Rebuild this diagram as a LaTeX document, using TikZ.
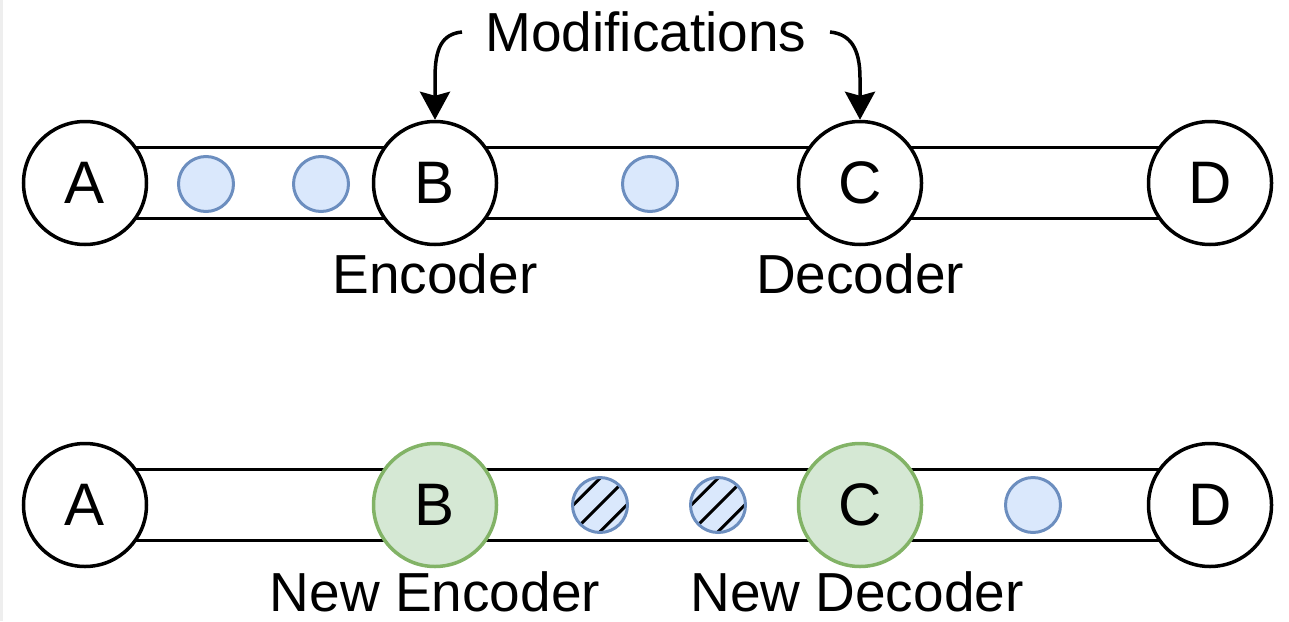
\documentclass[tikz,border=0pt]{standalone}
\usepackage{fontspec}
\setmainfont{Liberation Sans}
\usetikzlibrary{arrows.meta}
\pgfdeclarelayer{bg}
\pgfsetlayers{bg,main}
\definecolor{bluefill}{HTML}{DAE8FC}
\definecolor{bluedraw}{HTML}{6C8EBF}
\definecolor{greenfill}{HTML}{D5E8D4}
\definecolor{greendraw}{HTML}{82B366}
\definecolor{edgegray}{HTML}{EEEEEE}
\begin{document}
\begin{tikzpicture}[x=1pt,y=-1pt,
  stage/.style={circle,draw=black,fill=white,line width=3.5pt,minimum size=123pt,inner sep=0pt,
    font=\fontsize{60}{66}\selectfont},
  newstage/.style={stage,draw=greendraw,fill=greenfill},
  token/.style={circle,draw=bluedraw,fill=bluefill,line width=3pt,minimum size=55pt,inner sep=0pt},
  hatched/.style={token,path picture={
     \foreach \s in {-13.4,0,13.4}{
       \draw[black,line width=3pt]
         ([shift={(\s pt-40pt,-\s pt-40pt)}]path picture bounding box.center) --
         ([shift={(\s pt+40pt,-\s pt+40pt)}]path picture bounding box.center);}}},
  label/.style={font=\fontsize{55}{60}\selectfont,inner sep=0pt},
  band/.style={line width=3.5pt},
  modarrow/.style={line width=3.5pt,-{Stealth[length=28pt,width=30pt,inset=4pt]}}
]
\useasboundingbox (0,0) rectangle (1289,621);
\fill[edgegray] (0,0) rectangle (3,621);

% top row
\node[stage] (A1) at (85,183) {A};
\node[stage] (B1) at (435,183) {B};
\node[stage] (C1) at (860,183) {C};
\node[stage] (D1) at (1210,183) {D};
\begin{pgfonlayer}{bg}
  \foreach \u/\v in {A1/B1,B1/C1,C1/D1}{
    \draw[band] ([yshift=35.5pt]\u.center) -- ([yshift=35.5pt]\v.center);
    \draw[band] ([yshift=-35.5pt]\u.center) -- ([yshift=-35.5pt]\v.center);}
\end{pgfonlayer}
\node[token] (t1) at (206,184) {};
\node[token] (t2) at (321,184) {};
\node[token] (t3) at (650,184) {};

\node[label,anchor=base] (enc) at (435,293) {Encoder};
\node[label,anchor=base] (dec) at (860,293) {Decoder};

\node[label,anchor=base] (mod) at (646,51) {Modifications};
\coordinate (m1) at (462,32);
\coordinate (m2) at (830,32);
\draw[modarrow] (m1) .. controls (442,34) and (435,48) .. (435,78) -- (B1.north);
\draw[modarrow] (m2) .. controls (850,34) and (860,48) .. (860,78) -- (C1.north);

% bottom row
\node[stage] (A2) at (85,505) {A};
\node[newstage] (B2) at (435,505) {B};
\node[newstage] (C2) at (860,505) {C};
\node[stage] (D2) at (1210,505) {D};
\begin{pgfonlayer}{bg}
  \foreach \u/\v in {A2/B2,B2/C2,C2/D2}{
    \draw[band] ([yshift=35.5pt]\u.center) -- ([yshift=35.5pt]\v.center);
    \draw[band] ([yshift=-35.5pt]\u.center) -- ([yshift=-35.5pt]\v.center);}
\end{pgfonlayer}
\node[hatched] (h1) at (600,505) {};
\node[hatched] (h2) at (718,505) {};
\node[token] (t4) at (1033,505) {};

\node[label,anchor=base] (nenc) at (435,611) {New Encoder};
\node[label,anchor=base] (ndec) at (857,611) {New Decoder};
\end{tikzpicture}
\end{document}
